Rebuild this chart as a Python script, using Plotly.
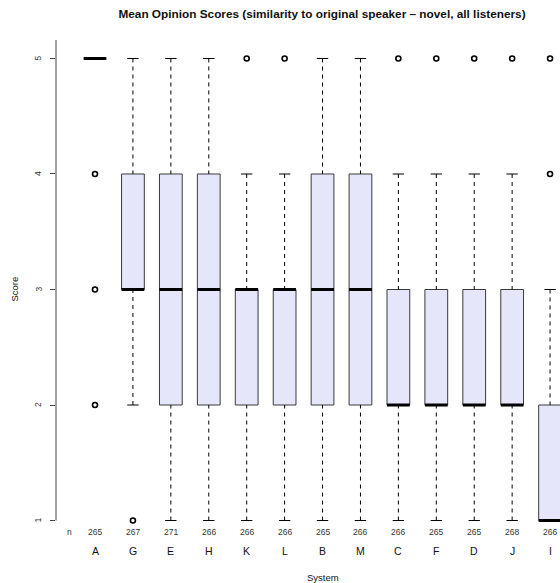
import plotly.graph_objects as go

systems = ["A", "G", "E", "H", "K", "L", "B", "M", "C", "F", "D", "J", "I"]
counts = [265, 267, 271, 266, 266, 266, 265, 266, 266, 265, 265, 268, 266]
lower_whisker = [5, 2, 1, 1, 1, 1, 1, 1, 1, 1, 1, 1, 1]
q1 = [5, 3, 2, 2, 2, 2, 2, 2, 2, 2, 2, 2, 1]
median = [5, 3, 3, 3, 3, 3, 3, 3, 2, 2, 2, 2, 1]
q3 = [5, 4, 4, 4, 3, 3, 4, 4, 3, 3, 3, 3, 2]
upper_whisker = [5, 5, 5, 5, 4, 4, 5, 5, 4, 4, 4, 4, 3]
outliers = [[2, 3, 4], [1], [], [], [5], [5], [], [], [5], [5], [5], [5], [4, 5]]
y_ticks = [1, 2, 3, 4, 5]

FONT = "Liberation Sans, Arial, sans-serif"
HW = 0.3      # box half width
CW = 0.15     # cap half width
xs = list(range(1, len(systems) + 1))
PLOT_L, PLOT_W = 56, 504

fig = go.Figure()

# boxes (fill + border)
bx, by = [], []
for x, a, b in zip(xs, q1, q3):
    if b > a:
        bx += [x - HW, x + HW, x + HW, x - HW, x - HW, None]
        by += [a, a, b, b, a, None]
fig.add_trace(go.Scatter(x=bx, y=by, mode="lines", fill="toself",
                         fillcolor="#E6E6FA", line=dict(color="#3a3a3a", width=1),
                         hoverinfo="skip", showlegend=False))

# whiskers dashed
wx, wy = [], []
for x, lo, a, b, hi in zip(xs, lower_whisker, q1, q3, upper_whisker):
    if hi > b:
        wx += [x, x, None]
        wy += [hi, b, None]
    if lo < a:
        wx += [x, x, None]
        wy += [lo, a, None]
fig.add_trace(go.Scatter(x=wx, y=wy, mode="lines",
                         line=dict(color="black", width=1, dash="4px,4px"),
                         hoverinfo="skip", showlegend=False))

# caps
cx, cy = [], []
for x, lo, a, b, hi in zip(xs, lower_whisker, q1, q3, upper_whisker):
    if hi > b:
        cx += [x - CW, x + CW, None]
        cy += [hi, hi, None]
    if lo < a:
        cx += [x - CW, x + CW, None]
        cy += [lo, lo, None]
fig.add_trace(go.Scatter(x=cx, y=cy, mode="lines",
                         line=dict(color="black", width=1),
                         hoverinfo="skip", showlegend=False))

# medians
mx, my = [], []
for x, m in zip(xs, median):
    mx += [x - HW, x + HW, None]
    my += [m, m, None]
fig.add_trace(go.Scatter(x=mx, y=my, mode="lines",
                         line=dict(color="black", width=3),
                         hoverinfo="skip", showlegend=False))

# outliers
ox, oy = [], []
for x, outs in zip(xs, outliers):
    for v in outs:
        ox.append(x)
        oy.append(v)
fig.add_trace(go.Scatter(x=ox, y=oy, mode="markers",
                         marker=dict(symbol="circle-open", size=5, color="black",
                                     line=dict(width=1.6, color="black")),
                         hoverinfo="skip", showlegend=False))

annotations = []
# y tick labels (rotated)
for t in y_ticks:
    annotations.append(dict(x=0, xref="paper", y=t, yref="y", text=str(t),
                            showarrow=False, textangle=-90, xanchor="center",
                            yanchor="middle", xshift=-18,
                            font=dict(family=FONT, size=8.5, color="#333")))
# n row
annotations.append(dict(x=0.32, xref="x", y=0, yref="paper", text="n",
                        showarrow=False, xanchor="center", yanchor="middle",
                        yshift=7, font=dict(family=FONT, size=8.5, color="#333")))
for x, n, s in zip(xs, counts, systems):
    annotations.append(dict(x=x, xref="x", y=0, yref="paper", text=str(n),
                            showarrow=False, xanchor="center", yanchor="middle",
                            yshift=7, font=dict(family=FONT, size=8.5, color="#333")))
    annotations.append(dict(x=x, xref="x", y=0, yref="paper", text=s,
                            showarrow=False, xanchor="center", yanchor="middle",
                            yshift=-12, font=dict(family=FONT, size=10.5, color="#111")))
annotations.append(dict(x=(323 - PLOT_L) / PLOT_W, xref="paper", y=0, yref="paper", text="System",
                        showarrow=False, xanchor="center", yanchor="middle",
                        yshift=-38, font=dict(family=FONT, size=9.5, color="#111")))
annotations.append(dict(x=(14 - PLOT_L) / PLOT_W, xref="paper", y=0.5, yref="paper", text="Score",
                        showarrow=False, xanchor="center", yanchor="middle",
                        textangle=-90, font=dict(family=FONT, size=9.5, color="#111")))

fig.update_layout(
    width=560, height=583,
    margin=dict(l=PLOT_L, r=0, t=40, b=44),
    paper_bgcolor="white", plot_bgcolor="white",
    title=dict(text="<b>Mean Opinion Scores (similarity to original speaker \u2013 novel, all listeners)</b>",
               x=322 / 560, xref="container", xanchor="center",
               y=1 - 14 / 583, yref="container", yanchor="middle",
               font=dict(family=FONT, size=11.8, color="#111")),
    xaxis=dict(range=[-0.0285, 13.262], showgrid=False, zeroline=False, showticklabels=False,
               ticks="", showline=False, fixedrange=True),
    yaxis=dict(range=[0.84, 5.16], showgrid=False, zeroline=False, showticklabels=False,
               tickvals=y_ticks, ticks="outside", ticklen=5, tickwidth=1, tickcolor="#444",
               showline=False, fixedrange=True),
    shapes=[dict(type="line", xref="paper", x0=0, x1=0, yref="y", y0=1, y1=5.16,
                 line=dict(color="#444", width=1))],
    annotations=annotations,
    showlegend=False,
)

fig.write_html("out.html", config={"displayModeBar": False},
               post_script="document.body.style.margin='0';document.body.style.overflow='hidden';")
